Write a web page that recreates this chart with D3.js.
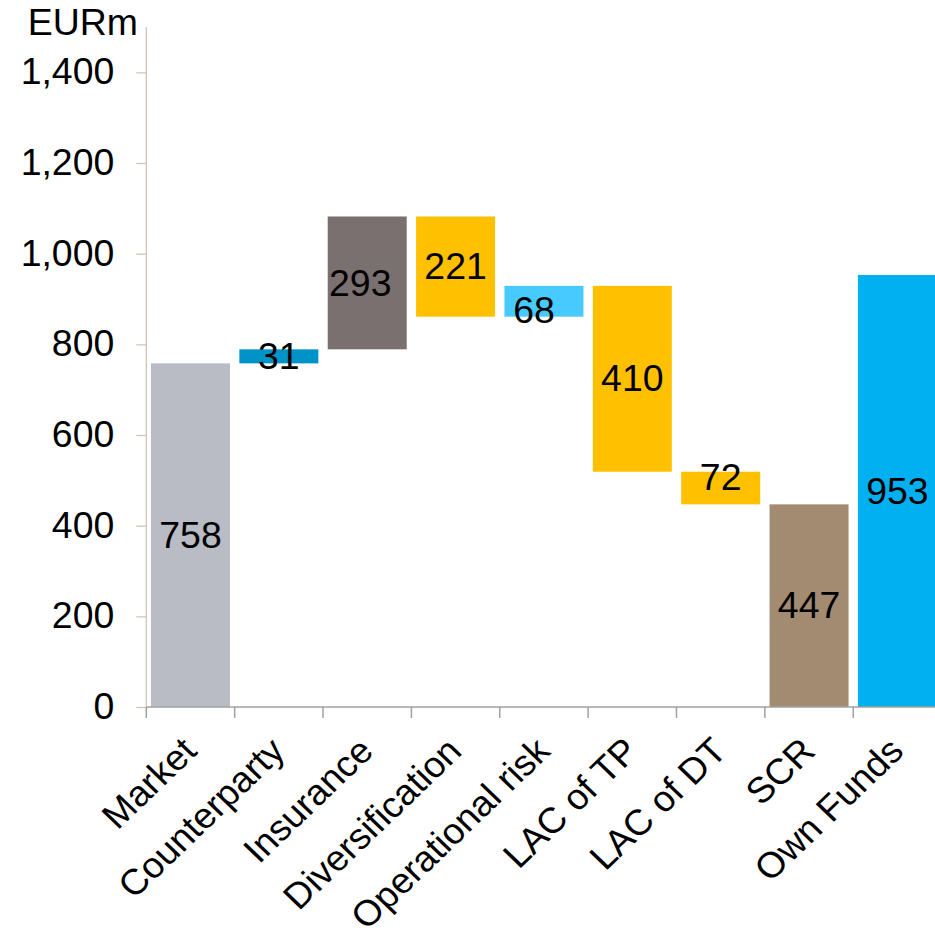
<!DOCTYPE html>
<html>
<head>
<meta charset="utf-8">
<script src="https://cdn.jsdelivr.net/npm/d3@7/dist/d3.min.js"></script>
<style>
  html, body { margin: 0; padding: 0; background: #fff; }
  svg { display: block; font-family: "Liberation Sans", Arial, sans-serif; }
</style>
</head>
<body>
<svg id="chart" width="935" height="936"></svg>
<script>
// Solvency capital waterfall (EURm)
const categories = ["Market", "Counterparty", "Insurance", "Diversification",
  "Operational risk", "LAC of TP", "LAC of DT", "SCR", "Own Funds"];
// signed movement for each step; "total" bars start at zero
const values = [758, 31, 293, -221, 68, -410, -72, 447, 953];
const barTypes = ["total", "step", "step", "step", "step", "step", "step", "total", "total"];
const colors = ["#b9bcc4", "#0093c8", "#7b7070", "#ffc000", "#47cbff",
  "#ffc000", "#ffc000", "#a38b72", "#00b0f0"];
const yTicks = [0, 200, 400, 600, 800, 1000, 1200, 1400];
const yMax = 1500;

// small hand placements of a few value labels
const labelNudge = [[0, 0], [0, 0], [-7, 0], [0, 0], [-10, 9], [0, 0], [0, -11], [0, 0], [0, 0]];

const svg = d3.select("#chart");
const fontSize = 36;
const stretch = 1.04; // slightly wide type

const x = d3.scaleBand()
  .domain(categories)
  .range([146.3, 941.6])
  .paddingInner(0.106)
  .paddingOuter(0.053);

const y = d3.scaleLinear().domain([0, yMax]).range([707, 27]);

// build waterfall segments
let running = 0;
const bars = categories.map((c, i) => {
  let lo, hi;
  if (barTypes[i] === "total") {
    lo = 0; hi = values[i];
    running = values[i];
  } else {
    const start = running;
    running += values[i];
    lo = Math.min(start, running);
    hi = Math.max(start, running);
  }
  return { cat: c, lo, hi, value: Math.abs(values[i]), color: colors[i], nudge: labelNudge[i] };
});

// bars
svg.append("g").selectAll("rect")
  .data(bars)
  .join("rect")
  .attr("x", d => x(d.cat))
  .attr("width", x.bandwidth())
  .attr("y", d => y(d.hi))
  .attr("height", d => y(d.lo) - y(d.hi))
  .attr("fill", d => d.color);

// value labels
svg.append("g").selectAll("text")
  .data(bars)
  .join("text")
  .attr("transform", d => `translate(${x(d.cat) + x.bandwidth() / 2 + d.nudge[0]},${(y(d.lo) + y(d.hi)) / 2 + d.nudge[1]}) scale(${stretch},1)`)
  .attr("dy", "0.35em")
  .attr("text-anchor", "middle")
  .attr("font-size", fontSize)
  .attr("fill", "#000")
  .text(d => d3.format(",")(d.value));

// y axis
const yAxis = svg.append("g")
  .attr("transform", `translate(${x.range()[0]},0)`)
  .call(d3.axisLeft(y).tickValues(yTicks).tickSize(10).tickPadding(21).tickFormat(d3.format(",")));
yAxis.select(".domain").attr("stroke", "#d3c3b5").attr("stroke-width", 1.3).attr("d", `M0,${y(yMax)}V${y(0)}`);
yAxis.selectAll(".tick line").attr("stroke", "#d3c3b5").attr("stroke-width", 1.3);
yAxis.selectAll(".tick text")
  .attr("x", null)
  .attr("transform", `translate(-32,0) scale(${stretch},1)`)
  .attr("font-size", fontSize)
  .attr("font-family", "Liberation Sans, Arial, sans-serif")
  .attr("fill", "#000");

// x axis with ticks on category boundaries
const xAxisG = svg.append("g").attr("transform", `translate(0,${y(0)})`);
xAxisG.append("line")
  .attr("x1", x.range()[0]).attr("x2", x.range()[1])
  .attr("stroke", "#a0a0a0").attr("stroke-width", 1.5);
const boundaries = categories.map(c => x(c) - x.step() * x.paddingInner() / 2);
xAxisG.selectAll("line.tick")
  .data(boundaries)
  .join("line")
  .attr("class", "tick")
  .attr("x1", d => d).attr("x2", d => d)
  .attr("y1", 0).attr("y2", 11)
  .attr("stroke", "#a0a0a0").attr("stroke-width", 1.5);

// rotated category labels
xAxisG.selectAll("text")
  .data(categories)
  .join("text")
  .attr("transform", c => `translate(${x(c) + x.bandwidth() / 2 + 8},46) scale(${stretch},1) rotate(-45)`)
  .attr("text-anchor", "end")
  .attr("font-size", fontSize)
  .attr("fill", "#000")
  .text(c => c);

// unit label
svg.append("text")
  .attr("transform", `translate(138,35) scale(${stretch},1)`)
  .attr("text-anchor", "end")
  .attr("font-size", fontSize)
  .attr("fill", "#000")
  .text("EURm");
</script>
</body>
</html>
